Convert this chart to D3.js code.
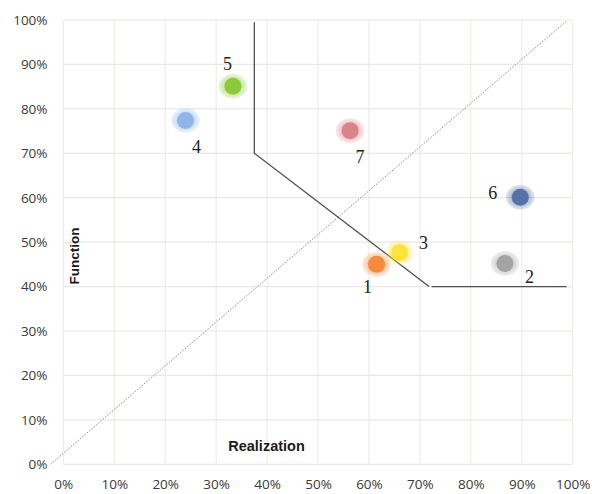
<!DOCTYPE html>
<html><head><meta charset="utf-8">
<script src="https://cdn.jsdelivr.net/npm/d3@7"></script>
<style>body{margin:0;background:#fff}svg{display:block}</style>
</head><body>
<script>
// Data
const ids = ["1","2","3","4","5","6","7"];
const realization = [61.5, 86.7, 66.0, 24.0, 33.3, 89.7, 56.3];
const functionVals = [45.0, 45.2, 47.6, 77.4, 85.1, 60.1, 75.1];
const colors = ["#F68B3C","#A3A3A3","#FFE23A","#8EB6EA","#8BCB3A","#5672A4","#D98489"];
const xTicks = [0,10,20,30,40,50,60,70,80,90,100];
const yTicks = [0,10,20,30,40,50,60,70,80,90,100];
const boundaryA = [[37.5,99.5],[37.5,70],[71.8,40]];
const boundaryB = [[72.3,40],[98.8,40]];
const diagonal = [[-2.5,0],[98.7,99.7]];
// label offsets (px) relative to marker
const labelDx = [-9, 24.5, 24, 11, -5.5, -27.5, 10];
const labelDy = [23, 14, -9.5, 26.7, -22.7, -4.6, 26.6];

const W=592,H=494;
const svg=d3.select("body").append("svg").attr("width",W).attr("height",H);
const x=d3.scaleLinear().domain([0,100]).range([63.3,572.7]);
const y=d3.scaleLinear().domain([0,100]).range([464.3,20]);

// grid
const g=svg.append("g");
g.selectAll(".vg").data(xTicks).join("line")
 .attr("x1",d=>x(d)).attr("x2",d=>x(d)).attr("y1",y(0)).attr("y2",y(100))
 .attr("stroke","#EFEFE6").attr("stroke-width",1.2);
g.selectAll(".hg").data(yTicks).join("line")
 .attr("y1",d=>y(d)).attr("y2",d=>y(d)).attr("x1",x(0)).attr("x2",x(100))
 .attr("stroke","#E8E8E4").attr("stroke-width",1.2);

// axes labels via d3 axes
const xAxis=svg.append("g").attr("transform",`translate(0,${479})`)
 .call(d3.axisBottom(x).tickValues(xTicks).tickFormat(d=>d+"%").tickSize(0).tickPadding(0));
xAxis.select(".domain").remove();
xAxis.selectAll("text").attr("font-family","Open Sans").attr("font-size",13.5).attr("fill","#3a3a3a");
const yAxis=svg.append("g").attr("transform",`translate(${47.5},0)`)
 .call(d3.axisLeft(y).tickValues(yTicks).tickFormat(d=>d+"%").tickSize(0).tickPadding(0));
yAxis.select(".domain").remove();
yAxis.selectAll("text").attr("font-family","Open Sans").attr("font-size",13.5).attr("fill","#3a3a3a");

// diagonal
const line=d3.line().x(d=>x(d[0])).y(d=>y(d[1]));
svg.append("path").attr("d",line(diagonal)).attr("fill","none")
 .attr("stroke","#8A8A8A").attr("stroke-width",1).attr("stroke-dasharray","1.5,1.5");
// boundary
[boundaryA,boundaryB].forEach(b=>svg.append("path").attr("d",line(b)).attr("fill","none")
 .attr("stroke","#505050").attr("stroke-width",1.3));

// titles
svg.append("text").attr("x",266.5).attr("y",445.5).attr("text-anchor","middle").attr("dominant-baseline","central")
 .attr("font-family","Liberation Sans, Arial").attr("font-weight","bold").attr("font-size",14.5).attr("fill","#1a1a1a").text("Realization");
svg.append("text").attr("transform","translate(74,256) rotate(-90)").attr("text-anchor","middle").attr("dominant-baseline","central")
 .attr("font-family","Liberation Sans, Arial").attr("font-weight","bold").attr("font-size",13.5).attr("fill","#1a1a1a").text("Function");

// markers
const pts=ids.map((id,i)=>({id,x:realization[i],y:functionVals[i],c:colors[i],dx:labelDx[i],dy:labelDy[i]}));
const defs=svg.append("defs");
pts.forEach((p,i)=>{
  const gr=defs.append("radialGradient").attr("id","halo"+i);
  gr.append("stop").attr("offset","55%").attr("stop-color",p.c).attr("stop-opacity",0.5);
  gr.append("stop").attr("offset","100%").attr("stop-color",p.c).attr("stop-opacity",0.15);
});
const mg=svg.append("g");
mg.selectAll(".halo").data(pts).join("ellipse")
 .attr("cx",d=>x(d.x)).attr("cy",d=>y(d.y)).attr("rx",14.5).attr("ry",12.5)
 .attr("fill",(d,i)=>`url(#halo${i})`);
mg.selectAll(".dot").data(pts).join("circle")
 .attr("cx",d=>x(d.x)).attr("cy",d=>y(d.y)).attr("r",8.5).attr("fill",d=>d.c);
mg.selectAll(".lbl").data(pts).join("text")
 .attr("x",d=>x(d.x)+d.dx).attr("y",d=>y(d.y)+d.dy)
 .attr("text-anchor","middle").attr("dominant-baseline","central")
 .attr("font-family","Liberation Serif, serif").attr("font-size",18).attr("fill","#222").text(d=>d.id);
</script>
</body></html>
